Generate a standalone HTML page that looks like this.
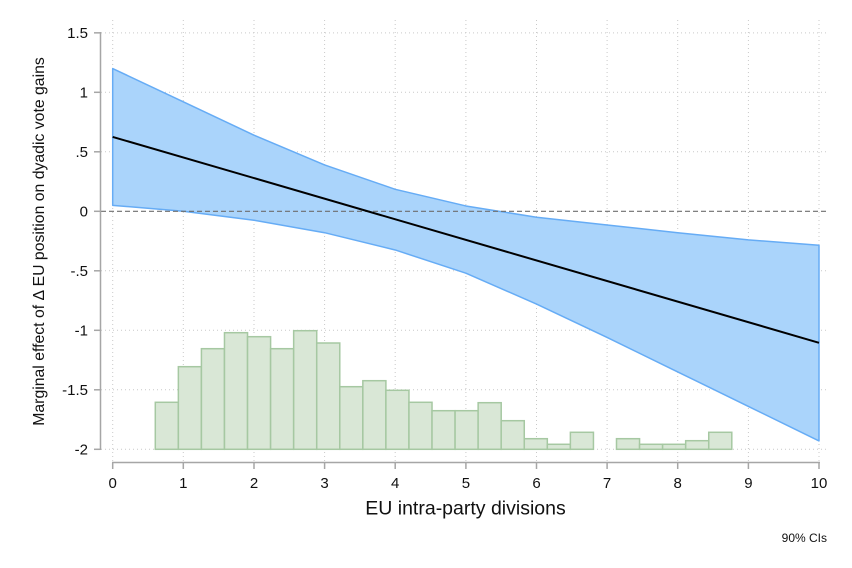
<!DOCTYPE html>
<html><head><meta charset="utf-8"><style>
html,body{margin:0;padding:0;background:#fff;}
svg{display:block;font-family:"Liberation Sans",Arial,sans-serif;}
</style></head><body>
<svg width="852" height="568" viewBox="0 0 852 568" xmlns="http://www.w3.org/2000/svg">
<rect width="852" height="568" fill="#fff"/>
<!-- gridlines -->
<g stroke="#c9c9c9" stroke-width="1" stroke-dasharray="1 3" fill="none">
<line x1="101" y1="32.85" x2="828" y2="32.85"/>
<line x1="101" y1="92.3" x2="828" y2="92.3"/>
<line x1="101" y1="151.8" x2="828" y2="151.8"/>
<line x1="101" y1="270.8" x2="828" y2="270.8"/>
<line x1="101" y1="330.3" x2="828" y2="330.3"/>
<line x1="101" y1="389.8" x2="828" y2="389.8"/>
<line x1="101" y1="449.3" x2="828" y2="449.3"/>
<line x1="112.7" y1="20" x2="112.7" y2="462"/>
<line x1="183.3" y1="20" x2="183.3" y2="462"/>
<line x1="254" y1="20" x2="254" y2="462"/>
<line x1="324.6" y1="20" x2="324.6" y2="462"/>
<line x1="395.2" y1="20" x2="395.2" y2="462"/>
<line x1="465.9" y1="20" x2="465.9" y2="462"/>
<line x1="536.5" y1="20" x2="536.5" y2="462"/>
<line x1="607.1" y1="20" x2="607.1" y2="462"/>
<line x1="677.7" y1="20" x2="677.7" y2="462"/>
<line x1="748.4" y1="20" x2="748.4" y2="462"/>
<line x1="819" y1="20" x2="819" y2="462"/>
</g>
<!-- histogram -->
<g fill="#d9e7d6" stroke="#a6c8a2" stroke-width="1.5">
<rect x="155.3" y="402.3" width="23.06" height="47"/>
<rect x="178.36" y="366.7" width="23.06" height="82.6"/>
<rect x="201.42" y="348.7" width="23.06" height="100.6"/>
<rect x="224.48" y="332.7" width="23.06" height="116.6"/>
<rect x="247.54" y="336.7" width="23.06" height="112.6"/>
<rect x="270.6" y="348.7" width="23.06" height="100.6"/>
<rect x="293.66" y="330.7" width="23.06" height="118.6"/>
<rect x="316.72" y="343" width="23.06" height="106.3"/>
<rect x="339.78" y="386.7" width="23.06" height="62.6"/>
<rect x="362.84" y="380.7" width="23.06" height="68.6"/>
<rect x="385.9" y="390.3" width="23.06" height="59"/>
<rect x="408.96" y="402.3" width="23.06" height="47"/>
<rect x="432.02" y="410.7" width="23.06" height="38.6"/>
<rect x="455.08" y="410.7" width="23.06" height="38.6"/>
<rect x="478.14" y="402.7" width="23.06" height="46.6"/>
<rect x="501.2" y="420.7" width="23.06" height="28.6"/>
<rect x="524.26" y="438.7" width="23.06" height="10.6"/>
<rect x="547.32" y="444.3" width="23.06" height="5"/>
<rect x="570.38" y="432.3" width="23.06" height="17"/>
<rect x="616.5" y="438.7" width="23.06" height="10.6"/>
<rect x="639.56" y="444.3" width="23.06" height="5"/>
<rect x="662.62" y="444.3" width="23.06" height="5"/>
<rect x="685.68" y="440.7" width="23.06" height="8.6"/>
<rect x="708.74" y="432.3" width="23.06" height="17"/>
</g>
<!-- CI band -->
<polygon fill="#aad4fb" stroke="#66acf5" stroke-width="1.5" stroke-linejoin="round"
points="112.7,68.54 183.3,101.85 254,135.16 324.6,164.9 395.2,189.3 465.9,205.95 536.5,217.25 607.1,224.98 677.7,232.7 748.4,239.85 819,245.3 819,440.9 748.4,406.4 677.7,371.9 607.1,337.4 536.5,304.1 465.9,273.17 395.2,249.97 324.6,232.7 254,220.2 183.3,211.3 112.7,205.35"/>
<!-- zero line -->
<line x1="101" y1="211.3" x2="828" y2="211.3" stroke="#6e6e6e" stroke-width="1.2" stroke-dasharray="5 3"/>
<!-- estimate line -->
<line x1="112.7" y1="136.9" x2="819" y2="342.8" stroke="#000" stroke-width="2"/>
<!-- axes -->
<g stroke="#a6a6a6" stroke-width="1.5">
<line x1="100.5" y1="32" x2="100.5" y2="450"/>
<line x1="112" y1="462.5" x2="820" y2="462.5"/>
<line x1="94" y1="32.85" x2="100.5" y2="32.85"/>
<line x1="94" y1="92.3" x2="100.5" y2="92.3"/>
<line x1="94" y1="151.8" x2="100.5" y2="151.8"/>
<line x1="94" y1="211.3" x2="100.5" y2="211.3"/>
<line x1="94" y1="270.8" x2="100.5" y2="270.8"/>
<line x1="94" y1="330.3" x2="100.5" y2="330.3"/>
<line x1="94" y1="389.8" x2="100.5" y2="389.8"/>
<line x1="94" y1="449.3" x2="100.5" y2="449.3"/>
<line x1="112.7" y1="462.5" x2="112.7" y2="469"/>
<line x1="183.3" y1="462.5" x2="183.3" y2="469"/>
<line x1="254" y1="462.5" x2="254" y2="469"/>
<line x1="324.6" y1="462.5" x2="324.6" y2="469"/>
<line x1="395.2" y1="462.5" x2="395.2" y2="469"/>
<line x1="465.9" y1="462.5" x2="465.9" y2="469"/>
<line x1="536.5" y1="462.5" x2="536.5" y2="469"/>
<line x1="607.1" y1="462.5" x2="607.1" y2="469"/>
<line x1="677.7" y1="462.5" x2="677.7" y2="469"/>
<line x1="748.4" y1="462.5" x2="748.4" y2="469"/>
<line x1="819" y1="462.5" x2="819" y2="469"/>
</g>
<!-- y tick labels -->
<g font-size="15" fill="#111" text-anchor="end">
<text x="88" y="38.2">1.5</text>
<text x="88" y="97.7">1</text>
<text x="88" y="157.2">.5</text>
<text x="88" y="216.7">0</text>
<text x="88" y="276.2">-.5</text>
<text x="88" y="335.7">-1</text>
<text x="88" y="395.2">-1.5</text>
<text x="88" y="454.7">-2</text>
</g>
<!-- x tick labels -->
<g font-size="15" fill="#111" text-anchor="middle">
<text x="112.7" y="488">0</text>
<text x="183.3" y="488">1</text>
<text x="254" y="488">2</text>
<text x="324.6" y="488">3</text>
<text x="395.2" y="488">4</text>
<text x="465.9" y="488">5</text>
<text x="536.5" y="488">6</text>
<text x="607.1" y="488">7</text>
<text x="677.7" y="488">8</text>
<text x="748.4" y="488">9</text>
<text x="819" y="488">10</text>
</g>
<text x="465.5" y="514.7" font-size="19.5" fill="#111" text-anchor="middle">EU intra-party divisions</text>
<text transform="translate(44,241.5) rotate(-90)" font-size="15.8" fill="#111" text-anchor="middle">Marginal effect of Δ EU position on dyadic vote gains</text>
<text x="827" y="542" font-size="12" fill="#111" text-anchor="end">90% CIs</text>
</svg>
</body></html>
